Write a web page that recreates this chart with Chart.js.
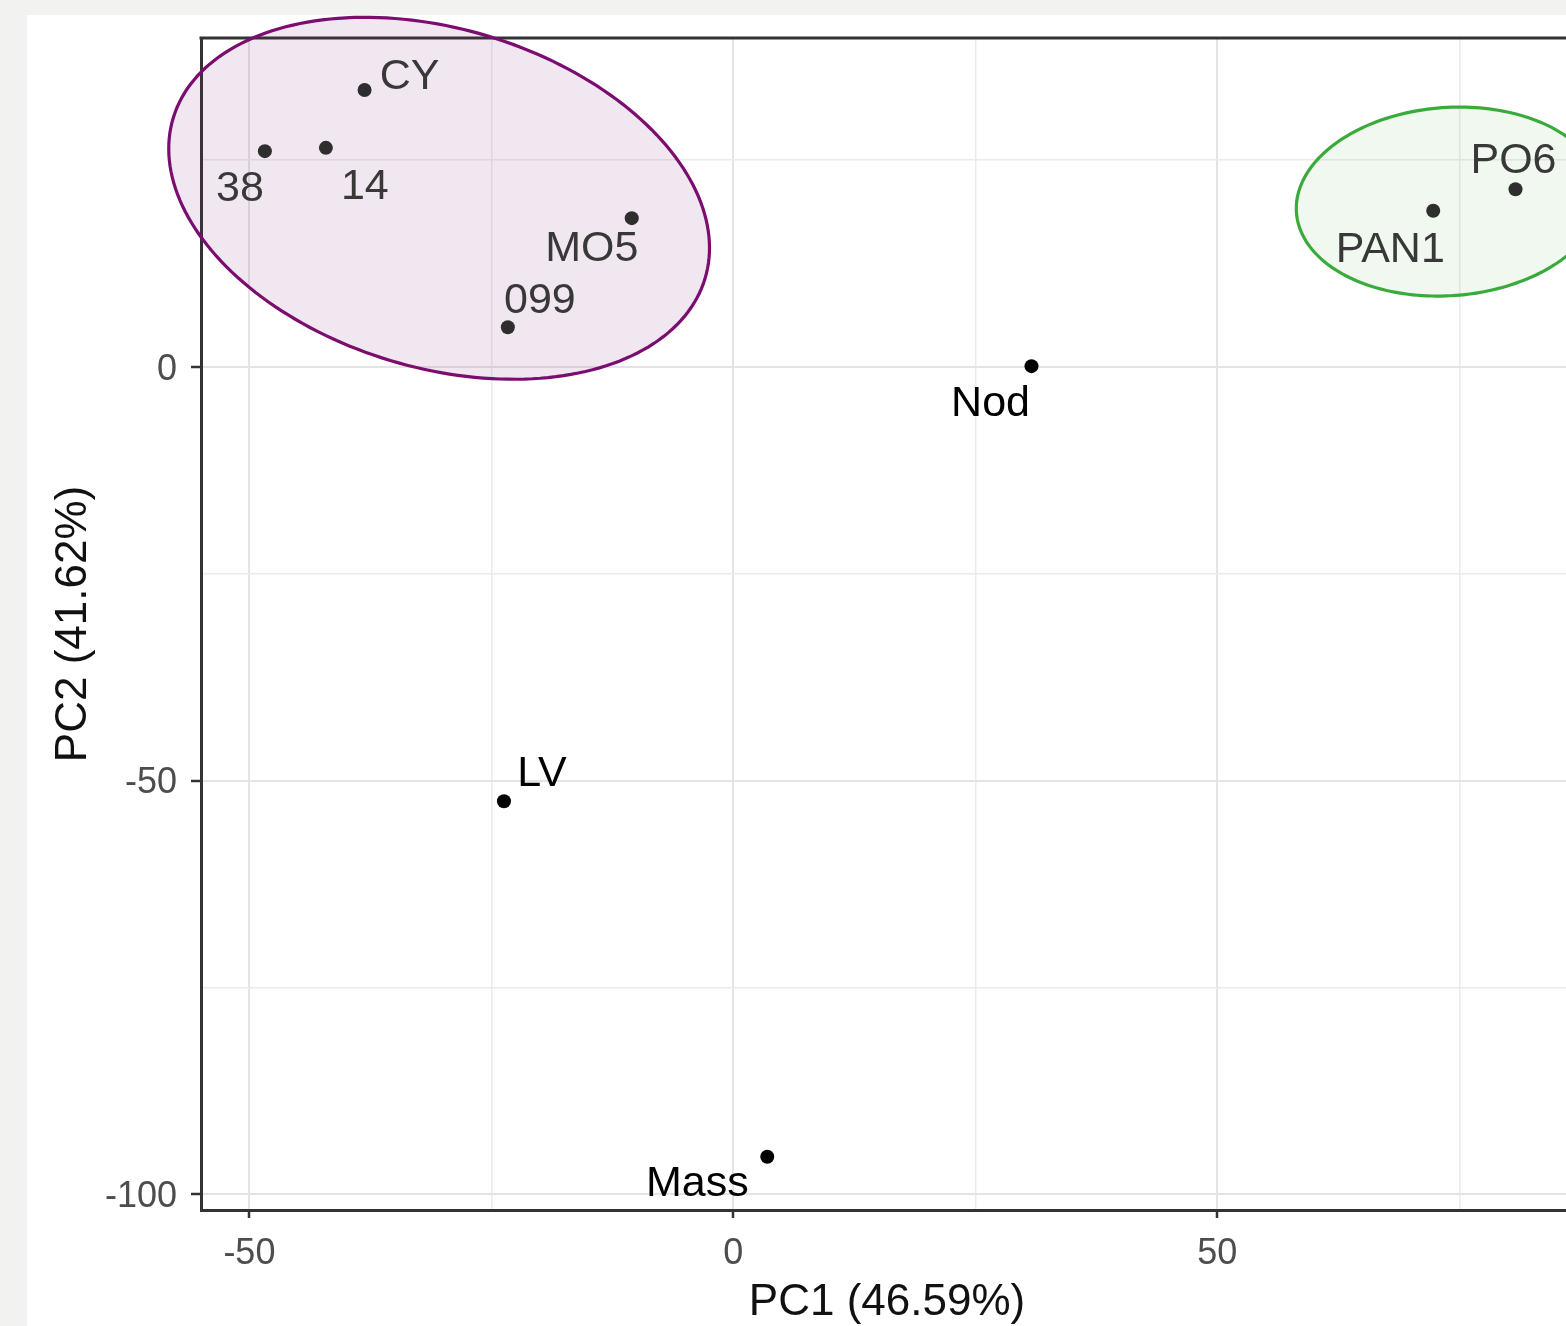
<!DOCTYPE html>
<html>
<head>
<meta charset="utf-8">
<script src="https://cdn.jsdelivr.net/npm/chart.js@4.4.1/dist/chart.umd.min.js"></script>
<style>
  html, body { margin: 0; padding: 0; background: #f2f2f0; overflow: hidden; width: 1566px; height: 1326px; }
  #panel { position: absolute; left: 27px; top: 15px; width: 1560px; height: 1311px; background: #ffffff; }
  #c { display: block; }
</style>
</head>
<body>
<div id="panel"><canvas id="c" width="1560" height="1311"></canvas></div>
<script>
// ---- data ----
const sampleNames = ['CY', '38', '14', 'MO5', '099', 'Nod', 'LV', 'Mass', 'PAN1', 'PO6'];
const pc1Values   = [-38.1, -48.4, -42.1, -10.5, -23.3, 30.8, -23.7, 3.5, 72.3, 80.8];
const pc2Values   = [33.5, 26.1, 26.5, 18.0, 4.8, 0.1, -52.5, -95.5, 18.9, 21.5];
const sampleGroup = ['A', 'A', 'A', 'A', 'A', '-', '-', '-', 'B', 'B'];

// confidence ellipses (data units): centre, semi-axis vectors
const ellipseGroups  = ['A', 'B'];
const ellipseCenters = [[-30.4, 20.4], [73.9, 20.0]];
const ellipseAxisU   = [[27.47, -9.71], [15.73, 1.33]];
const ellipseAxisV   = [[-5.06, -19.61], [0.70, -11.35]];

// axis definitions
const xTitle = 'PC1 (46.59%)';
const yTitle = 'PC2 (41.62%)';
const xRange = [-55, 86.74];
const yRange = [-101.93, 39.78];
const tickStep = 25;
const labelledStep = 50;

// ---- styling / layout (not data) ----
const labelOffsets = [[45, -13], [-25, 38], [39, 39], [-40, 31], [32, -26], [-41, 38], [38, -27], [-70, 27], [-43, 39], [-2, -28]];
const groupStyle = {
  'A': { stroke: '#7b0c70', fill: 'rgba(120,40,115,0.11)', point: '#2e2e2e', text: '#383838' },
  'B': { stroke: '#3aab3a', fill: 'rgba(70,160,60,0.08)', point: '#2e2e2e', text: '#383838' },
  '-': { point: '#000000', text: '#000000' }
};
const FONT = '"Liberation Sans", Arial, sans-serif';

const points = pc1Values.map((x, i) => ({ x: x, y: pc2Values[i] }));

const decorPlugin = {
  id: 'decor',
  beforeDatasetsDraw(chart) {
    const { ctx, chartArea: a, scales: { x, y } } = chart;
    ctx.save();
    ctx.strokeStyle = '#333333';
    ctx.lineWidth = 3;
    ctx.beginPath();
    ctx.moveTo(a.left - 1.5, a.top);
    ctx.lineTo(a.right, a.top);
    ctx.lineTo(a.right, a.bottom + 1.5);
    ctx.stroke();
    ellipseGroups.forEach((g, k) => {
      const st = groupStyle[g];
      const [cx, cy] = ellipseCenters[k];
      const u = ellipseAxisU[k], v = ellipseAxisV[k];
      ctx.beginPath();
      const n = 200;
      for (let j = 0; j <= n; j++) {
        const t = (j / n) * Math.PI * 2;
        const dx = cx + Math.cos(t) * u[0] + Math.sin(t) * v[0];
        const dy = cy + Math.cos(t) * u[1] + Math.sin(t) * v[1];
        const px = x.getPixelForValue(dx), py = y.getPixelForValue(dy);
        if (j === 0) ctx.moveTo(px, py); else ctx.lineTo(px, py);
      }
      ctx.closePath();
      ctx.fillStyle = st.fill;
      ctx.fill();
      ctx.strokeStyle = st.stroke;
      ctx.lineWidth = 3.2;
      ctx.stroke();
    });
    ctx.restore();
  },
  afterDatasetsDraw(chart) {
    const { ctx } = chart;
    const meta = chart.getDatasetMeta(0);
    ctx.save();
    ctx.font = '43px ' + FONT;
    ctx.textAlign = 'center';
    ctx.textBaseline = 'middle';
    meta.data.forEach((el, i) => {
      const st = groupStyle[sampleGroup[i]];
      ctx.fillStyle = st.text;
      ctx.fillText(sampleNames[i], el.x + labelOffsets[i][0], el.y + labelOffsets[i][1]);
    });
    ctx.restore();
  }
};

const isMajor = v => Math.abs(v % labelledStep) < 1e-6;

new Chart(document.getElementById('c'), {
  type: 'scatter',
  data: {
    datasets: [{
      data: points,
      pointRadius: 7,
      pointHoverRadius: 7,
      pointBorderWidth: 0,
      pointBackgroundColor: sampleGroup.map(g => groupStyle[g].point),
      pointBorderColor: sampleGroup.map(g => groupStyle[g].point)
    }]
  },
  options: {
    responsive: false,
    animation: false,
    devicePixelRatio: 1,
    layout: { padding: { top: 23, right: 14, left: 0, bottom: 0 } },
    plugins: { legend: { display: false }, tooltip: { enabled: false } },
    events: [],
    scales: {
      x: {
        type: 'linear',
        min: xRange[0], max: xRange[1],
        afterFit(s) { s.height = 116; s.paddingLeft = 0; s.paddingRight = 0; },
        border: { color: '#333333', width: 3 },
        grid: {
          color: c => isMajor(c.tick.value) ? '#e4e4e4' : '#ebebeb',
          lineWidth: c => isMajor(c.tick.value) ? 2 : 1.5,
          tickColor: c => isMajor(c.tick.value) ? '#333333' : 'rgba(0,0,0,0)',
          tickWidth: 2.5,
          tickLength: 8
        },
        ticks: {
          stepSize: tickStep,
          includeBounds: false,
          autoSkip: false,
          maxRotation: 0,
          padding: 14,
          color: '#4d4d4d',
          font: { family: FONT, size: 36 },
          callback: v => isMajor(v) ? String(v) : ''
        },
        title: {
          display: true, text: xTitle, color: '#111111',
          font: { family: FONT, size: 44 },
          padding: { top: 0, bottom: -3 }
        }
      },
      y: {
        type: 'linear',
        min: yRange[0], max: yRange[1],
        afterFit(s) { s.width = 174; s.paddingTop = 0; s.paddingBottom = 0; },
        border: { color: '#333333', width: 3 },
        grid: {
          color: c => isMajor(c.tick.value) ? '#e4e4e4' : '#ebebeb',
          lineWidth: c => isMajor(c.tick.value) ? 2 : 1.5,
          tickColor: c => isMajor(c.tick.value) ? '#333333' : 'rgba(0,0,0,0)',
          tickWidth: 2.5,
          tickLength: 10
        },
        ticks: {
          stepSize: tickStep,
          includeBounds: false,
          autoSkip: false,
          padding: 14,
          labelOffset: 3,
          color: '#4d4d4d',
          font: { family: FONT, size: 36 },
          callback: v => isMajor(v) ? String(v) : ''
        },
        title: {
          display: true, text: yTitle, color: '#111111',
          font: { family: FONT, size: 44 },
          padding: { top: 20, bottom: 0 }
        }
      }
    }
  },
  plugins: [decorPlugin]
});
</script>
</body>
</html>
